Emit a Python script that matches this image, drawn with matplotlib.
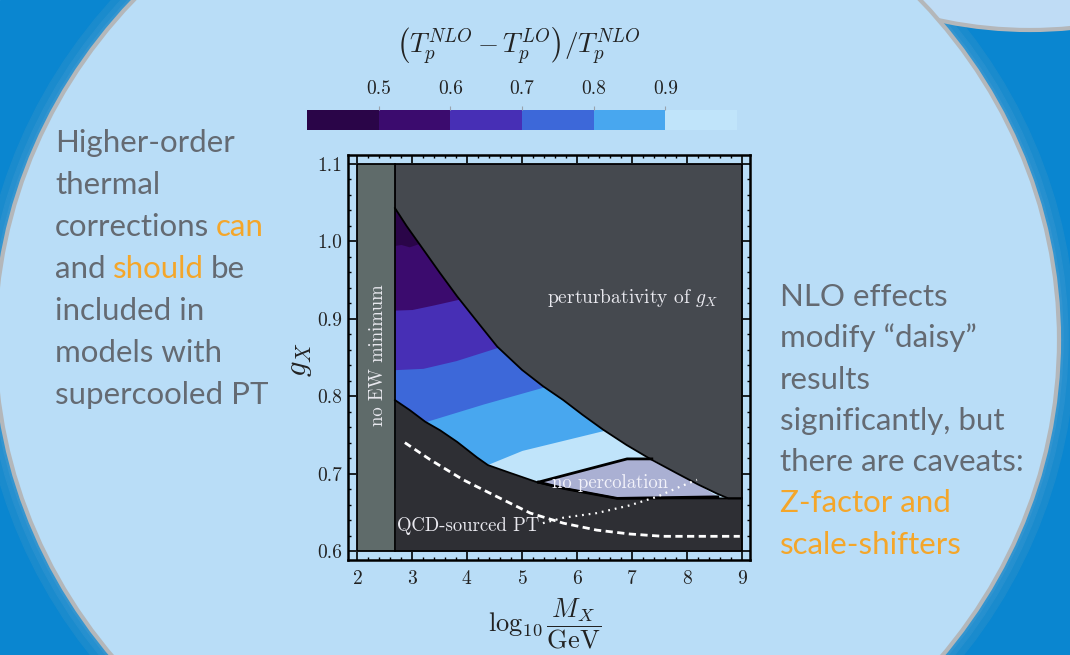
import matplotlib
matplotlib.use("Agg")
import matplotlib.pyplot as plt
from matplotlib.patches import Ellipse, Circle, Rectangle, Polygon
from matplotlib.colors import ListedColormap, BoundaryNorm
from matplotlib.cm import ScalarMappable
from matplotlib.ticker import MultipleLocator, FormatStrFormatter

plt.rcParams['mathtext.fontset'] = 'cm'
plt.rcParams['axes.formatter.use_mathtext'] = True

# colour levels of (T_p^NLO - T_p^LO)/T_p^NLO
levels = [0.4, 0.5, 0.6, 0.7, 0.8, 0.9, 1.0]
level_colors = ['#2a0548', '#3b0b6e', '#472fb5', '#3d68d9', '#48a7ef', '#c0e4fa']
cbar_ticks = [0.5, 0.6, 0.7, 0.8, 0.9]

# region boundaries (log10 M_X/GeV, g_X)
ew_edge = 2.69
pert_x = [2.69, 2.9, 3.2, 3.5, 3.82, 4.2, 4.55, 5.0, 5.38, 5.75, 6.1, 6.47, 6.9, 7.33, 7.8, 8.2, 8.55, 8.75, 9.0]
pert_y = [1.043, 1.02, 0.99, 0.96, 0.929, 0.895, 0.864, 0.834, 0.813, 0.795, 0.776, 0.757, 0.737, 0.719, 0.701, 0.686, 0.674, 0.668, 0.668]
low_x = [2.69, 2.96, 3.24, 3.51, 3.82, 4.18, 4.38, 4.78, 5.27, 5.75, 6.2, 6.73, 9.0]
low_y = [0.795, 0.782, 0.767, 0.756, 0.741, 0.721, 0.711, 0.701, 0.689, 0.681, 0.675, 0.668, 0.668]
nopc_x = [5.30, 6.91, 7.36, 7.8, 8.2, 8.56, 6.73, 6.2, 5.75]
nopc_y = [0.689, 0.719, 0.719, 0.701, 0.686, 0.670, 0.668, 0.675, 0.681]

# contour lines between the colour levels
c05_x = [2.6, 2.8, 2.95, 3.2, 9.0]
c05_y = [0.994, 0.996, 0.993, 0.999, 1.06]
c06_x = [2.6, 3.0, 3.4, 3.9, 9.0]
c06_y = [0.911, 0.912, 0.918, 0.926, 0.99]
c07_x = [2.6, 3.2, 3.8, 4.6, 9.0]
c07_y = [0.834, 0.836, 0.846, 0.864, 0.93]
c08_x = [2.6, 3.24, 4.3, 5.4, 9.0]
c08_y = [0.757, 0.767, 0.790, 0.812, 0.88]
c09_x = [2.6, 4.38, 5.0, 6.5, 9.0]
c09_y = [0.68, 0.712, 0.730, 0.756, 0.80]

# dashed and dotted curves
dash_x = [2.87, 3.33, 3.93, 4.55, 5.15, 5.75, 6.36, 6.96, 7.56, 8.96]
dash_y = [0.740, 0.718, 0.692, 0.670, 0.649, 0.636, 0.627, 0.622, 0.619, 0.619]
dot_x = [5.38, 5.75, 6.36, 6.96, 7.45, 7.87, 8.18]
dot_y = [0.636, 0.643, 0.649, 0.659, 0.670, 0.683, 0.692]

x_ticks = [2, 3, 4, 5, 6, 7, 8, 9]
y_ticks = [0.6, 0.7, 0.8, 0.9, 1.0, 1.1]

left_lines = [[("Higher-order", 0)], [("thermal", 0)], [("corrections", 0), ("can", 1)],
              [("and", 0), ("should", 1), ("be", 0)], [("included in", 0)],
              [("models with", 0)], [("supercooled PT", 0)]]
right_lines = [[("NLO effects", 0)], [("modify \u201cdaisy\u201d", 0)], [("results", 0)],
               [("significantly, but", 0)], [("there are caveats:", 0)],
               [("Z-factor and", 1)], [("scale-shifters", 1)]]

W, H = 1070, 655
fig = plt.figure(figsize=(W / 100, H / 100), dpi=100)

# slide background
bg = fig.add_axes([0, 0, 1, 1])
bg.set_xlim(0, W)
bg.set_ylim(H, 0)
bg.axis('off')
bg.add_patch(Rectangle((0, 0), W, H, color='#0a86d0', zorder=0))
for grow, col in [(16, '#1a8bcd'), (9, '#2690cf'), (4, '#3395d0')]:
    bg.add_patch(Ellipse((527, 340), 2 * 532 + 2 * grow, 2 * 505 + 2 * grow, color=col, zorder=0.5))
bg.add_patch(Circle((1030, -400), 430, fc='#bfdcf5', ec='#b4b7ba', lw=3, zorder=1))
bg.add_patch(Ellipse((527, 340), 2 * 532, 2 * 505, fc='#b9ddf7', ec='#b4b7ba', lw=3, zorder=2))

gray = '#646a72'
orange = '#f4a62a'
text_font = 'Lato'


def write_lines(lines, x0, y0, dy, size):
    for i, parts in enumerate(lines):
        prev = None
        for word, hl in parts:
            c = orange if hl else gray
            if prev is None:
                prev = bg.text(x0, y0 + i * dy, word, fontsize=size, color=c,
                               family=text_font, va='baseline', ha='left', zorder=5)
            else:
                prev = bg.annotate(word, xy=(1, 0), xycoords=prev, xytext=(size * 0.22, 0),
                                   textcoords='offset points', fontsize=size, color=c,
                                   family=text_font, va='bottom', ha='left', zorder=5)


write_lines(left_lines, 55, 152, 42, 22.5)
write_lines(right_lines, 780, 306, 41.3, 22.5)

# main panel
ax = fig.add_axes([348 / W, 1 - 560 / H, 402 / W, 405 / H])
ax.set_facecolor('none')
ax.set_axisbelow(True)
ax.set_xlim(1.836, 9.145)
ax.set_ylim(0.5884, 1.1116)

# colour bands: fill above each contour line, lightest first
ax.fill_between([2.0, 9.0], 0.6, 1.1, color=level_colors[5], lw=0, zorder=1)
for cx, cy, col in [(c09_x, c09_y, level_colors[4]), (c08_x, c08_y, level_colors[3]),
                    (c07_x, c07_y, level_colors[2]), (c06_x, c06_y, level_colors[1]),
                    (c05_x, c05_y, level_colors[0])]:
    ax.fill_between(cx, cy, 1.1, color=col, lw=0, zorder=1)

# excluded regions
ax.fill_between(low_x, 0.6, low_y, color='#2e2f34', lw=0, zorder=2)
ax.fill_between(pert_x, pert_y, 1.1, color='#45494f', lw=0, zorder=2)
ax.add_patch(Polygon(list(zip(nopc_x, nopc_y)), closed=True, fc='#aab0d3', ec='none', zorder=2))
ax.add_patch(Rectangle((2.0, 0.6), ew_edge - 2.0, 0.5, fc='#5f6b6a', ec='none', zorder=2))

ax.plot(pert_x, pert_y, color='black', lw=1.3, zorder=3)
ax.plot(low_x, low_y, color='black', lw=1.3, zorder=3)
ax.plot(nopc_x[:3], nopc_y[:3], color='black', lw=2.0, zorder=3)
ax.plot(nopc_x[5:] + [nopc_x[0]], nopc_y[5:] + [nopc_y[0]], color='black', lw=2.0, zorder=3)
ax.plot([ew_edge, ew_edge], [0.6, 1.1], color='black', lw=1.3, zorder=3)
ax.add_patch(Rectangle((2.0, 0.6), 7.0, 0.5, fill=False, ec='black', lw=1.3, zorder=4))

ax.plot(dash_x, dash_y, color='white', lw=2.0, ls=(0, (2.6, 1.6)), zorder=3)
ax.plot(dot_x, dot_y, color='white', lw=1.6, ls=(0, (0.8, 2.2)), zorder=3)

ann = dict(family='cmr10', color='#e9e9ef', zorder=5)
ax.text(2.38, 0.853, 'no EW minimum', rotation=90, ha='center', va='center', fontsize=13.5, **ann)
ax.text(7.02, 0.927, 'perturbativity of $g_X$', ha='center', va='center', fontsize=14, **ann)
ax.text(6.6, 0.688, 'no percolation', ha='center', va='center', fontsize=13.5,
        family='cmr10', color='#f2f2fa', zorder=5)
ax.text(4.02, 0.632, 'QCD-sourced PT', ha='center', va='center', fontsize=13.5, **ann)

ax.set_xticks(x_ticks)
ax.set_yticks(y_ticks)
ax.xaxis.set_minor_locator(MultipleLocator(0.2))
ax.yaxis.set_minor_locator(MultipleLocator(0.02))
ax.yaxis.set_major_formatter(FormatStrFormatter('%.1f'))
ax.tick_params(which='both', direction='in', top=True, right=True, color='black')
ax.tick_params(which='major', length=6, width=1.2)
ax.tick_params(which='minor', length=2.5, width=1.0)
ax.tick_params(axis='x', which='major', pad=7)
ax.tick_params(axis='y', which='major', pad=4)
for lab in ax.get_xticklabels() + ax.get_yticklabels():
    lab.set_family('cmr10')
    lab.set_fontsize(14)
    lab.set_color('#222222')
for sp in ax.spines.values():
    sp.set_linewidth(1.8)

bg.text(300, 360, '$g_X$', rotation=90, ha='center', va='center', fontsize=22, color='#222222', zorder=5)
bg.text(545, 624, r'$\log_{10}\dfrac{M_X}{\mathrm{GeV}}$', ha='center', va='center', fontsize=19,
        color='#222222', zorder=5)

# colour bar
cax = fig.add_axes([307 / W, 1 - 130 / H, 430 / W, 20 / H])
cmap = ListedColormap(level_colors)
norm = BoundaryNorm(levels, cmap.N)
cb = fig.colorbar(ScalarMappable(norm=norm, cmap=cmap), cax=cax, orientation='horizontal')
cb.outline.set_visible(False)
cb.set_ticks(cbar_ticks)
cax.xaxis.set_ticks_position('top')
cax.xaxis.set_label_position('top')
cax.tick_params(length=3, width=0.8, color='#9aa3ad', pad=6, labelsize=14)
cb.set_ticklabels(['%.1f' % t for t in cbar_ticks])
for lab in cax.get_xticklabels():
    lab.set_family('cmr10')
    lab.set_color('#222222')
cax.minorticks_off()

bg.text(518, 45, r'$\left(T_p^{NLO}-T_p^{LO}\right)/T_p^{NLO}$', ha='center', va='center',
        fontsize=19.5, color='#222222', zorder=5)

fig.savefig('out.png', dpi=100)
